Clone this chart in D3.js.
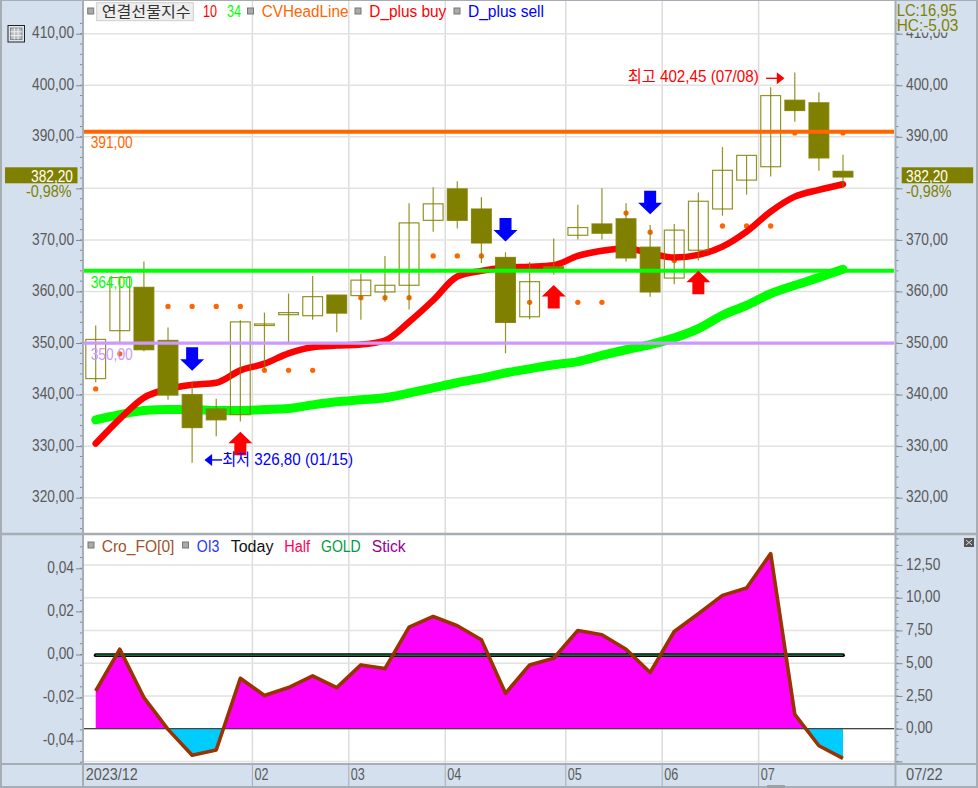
<!DOCTYPE html>
<html><head><meta charset="utf-8">
<script src="https://cdn.jsdelivr.net/npm/d3@7"></script>
<style>
html,body{margin:0;padding:0;background:#fff;overflow:hidden}
svg{display:block}
text{font-family:"Liberation Sans","Noto Sans CJK KR",sans-serif;font-size:16px}
.axis path{display:none}
.axis line{stroke:#808890}
.axis text{fill:#5a5a5a;font-size:16px}
</style></head><body>
<svg id="c" width="978" height="788"></svg>
<script>
const dates=["12/18","12/25","01/01","01/08","01/15","01/22","01/29","02/05","02/13","02/19","02/26","03/04","03/11","03/18","03/25","04/01","04/08","04/15","04/22","04/29","05/06","05/13","05/20","05/27","06/03","06/10","06/17","06/24","07/01","07/08","07/15","07/22"];
const open =[343.1,352.4,360.8,350.5,340.0,337.2,336.1,353.4,355.5,355.3,359.3,359.2,359.9,361.2,373.8,379.9,376.0,366.6,355.1,364.8,370.9,373.1,374.1,368.6,362.6,368.0,376.0,381.6,384.2,397.1,396.6,383.3];
const high =[353.4,362.9,365.8,353.0,342.4,339.2,354.4,355.9,359.6,363.0,359.3,363.5,366.9,377.1,380.2,381.4,378.3,367.6,365.7,370.3,376.8,380.0,377.1,372.9,373.1,379.2,388.0,386.4,399.6,402.45,398.6,386.5];
const low  =[342.4,350.0,348.4,339.0,326.8,331.9,334.8,344.7,350.2,354.5,352.1,354.5,358.0,356.5,371.6,372.2,365.5,348.0,354.6,363.3,370.1,370.1,365.8,359.0,361.4,366.0,374.7,378.8,382.3,392.9,383.4,380.0];
const close=[350.7,362.7,348.7,339.9,333.6,335.1,354.1,353.7,355.9,359.0,355.8,362.2,361.2,373.3,377.0,373.8,369.4,354.0,361.9,364.4,372.4,371.3,366.5,359.9,371.9,377.5,383.5,386.4,398.0,395.1,385.9,382.2];
const ma10=[330.5,335.3,339.4,341.1,341.9,342.3,344.7,346.0,348.0,349.2,349.5,349.7,350.5,354.1,358.3,362.9,364.0,364.6,364.8,365.1,366.9,367.9,368.4,367.4,366.6,367.1,368.7,371.6,375.5,378.4,379.7,380.8];
const ma34=[335.1,336.1,336.9,337.1,337.1,336.9,336.9,337.1,337.3,338.0,338.6,339.0,339.4,340.3,341.3,342.3,343.2,344.2,345.0,345.8,346.4,347.6,348.7,349.7,351.0,352.8,355.4,357.3,359.6,361.2,362.7,364.3];
const dotIdx=[0,1,3,4,5,6,7,8,9,11,12,13,14,15,16,18,20,21,22,23,24,25,26,27,28,29,31];
const dotVal=[341.1,347.9,357.1,357.1,357.1,357.1,344.7,344.7,344.7,358.8,358.8,358.8,366.9,366.9,366.9,357.9,357.9,357.9,375.2,371.5,366.0,367.1,372.7,372.7,372.7,390.75,390.75];
const headLines=[391,364,350];
const headColors=["#ff6600","#00ff00","#cc99ff"];
const buyIdx=[6,19,25], buyTip=[332.8,361.25,364.0];
const sellIdx=[4,17,23], sellTip=[344.6,369.7,375.0];
const priceTicks=[410,400,390,380,370,360,350,340,330,320];
const oscVals=[2.88,6.07,2.37,-0.05,-2.02,-1.63,3.85,2.53,3.14,4.03,3.14,4.87,4.59,7.76,8.57,7.86,6.79,2.70,4.87,5.38,7.5,7.17,6.07,4.29,7.42,8.78,10.18,10.74,13.37,1.10,-1.30,-2.27];
const oscRightTicks=[12.5,10,7.5,5,2.5,0,-2.5];
const oscLeftTicks=[0.04,0.02,0,-0.02,-0.04];
const monthStarts=["02/05","03/04","04/01","05/06","06/03","07/01"];
const monthLabels=["02","03","04","05","06","07"];

const svg=d3.select("#c");
const W=978,H=788,PL=83,PR=895.5;
const x=d3.scalePoint().domain(dates).range([95.7,843]);
const step=x.step();
const y=d3.scaleLinear().domain([410,320]).range([33.7,497.7]);
const yR=d3.scaleLinear().domain([12.5,0]).range([565,728.7]);
const yL=d3.scaleLinear().domain([0.04,-0.04]).range([568.3,740.7]);
const fmt=d=>d3.format(".2f")(d).replace(".",",").replace("\u2212","-");
const panel="#d5e0ee",olive="#808000";
const T=(t,px,py,c,w,anchor)=>{
 const s=svg.append("text").attr("x",px).attr("y",py).attr("fill",c).text(t);
 if(anchor)s.attr("text-anchor",anchor);
 if(w)s.attr("textLength",w).attr("lengthAdjust","spacingAndGlyphs");
 return s;
};

svg.append("rect").attr("width",W).attr("height",H).attr("fill","#fff");
svg.append("rect").attr("x",0).attr("y",0).attr("width",PL).attr("height",H).attr("fill",panel);
svg.append("rect").attr("x",PR).attr("y",0).attr("width",W-PR).attr("height",H).attr("fill",panel);
svg.append("rect").attr("x",0).attr("y",764).attr("width",W).attr("height",24).attr("fill",panel);

// grid
const grid=svg.append("g");
const gx=monthStarts.map(m=>x(m)-step/2);
gx.forEach(v=>grid.append("line").attr("x1",v).attr("x2",v).attr("y1",1).attr("y2",764).attr("stroke","#dcdcdc").attr("stroke-width",1.5));
priceTicks.forEach(v=>grid.append("line").attr("x1",PL).attr("x2",PR).attr("y1",y(v)).attr("y2",y(v)).attr("stroke","#e2e2e2").attr("stroke-width",1.5));
oscRightTicks.forEach(v=>grid.append("line").attr("x1",PL).attr("x2",PR).attr("y1",yR(v)).attr("y2",yR(v)).attr("stroke","#e2e2e2").attr("stroke-width",1.5));

// dots
svg.append("g").selectAll("path").data(dotIdx).join("path")
 .attr("d",d3.symbol(d3.symbolCircle,22))
 .attr("transform",(d,i)=>`translate(${x(dates[d])},${y(dotVal[i])})`).attr("fill","#ff6600");

// MAs
const ln=d3.line().x((d,i)=>x(dates[i])).y(d=>y(d)).curve(d3.curveMonotoneX);
svg.append("path").attr("d",ln(ma34)).attr("fill","none").attr("stroke","#00ff00").attr("stroke-width",9).attr("stroke-linecap","round").attr("stroke-linejoin","round");
svg.append("path").attr("d",ln(ma10)).attr("fill","none").attr("stroke","#ff0000").attr("stroke-width",6.5).attr("stroke-linecap","round").attr("stroke-linejoin","round");

// candles
const bw=19.8;
const cg=svg.append("g").selectAll("g").data(dates).join("g");
cg.append("line").attr("x1",d=>x(d)).attr("x2",d=>x(d)).attr("stroke",olive).attr("stroke-opacity",.85).attr("stroke-width",1.2)
 .attr("y1",(d,i)=>y(high[i])).attr("y2",(d,i)=>y(low[i]));
cg.append("rect").attr("x",d=>x(d)-bw/2).attr("width",bw)
 .attr("y",(d,i)=>y(Math.max(open[i],close[i])))
 .attr("height",(d,i)=>Math.max(1,y(Math.min(open[i],close[i]))-y(Math.max(open[i],close[i]))))
 .attr("fill",(d,i)=>close[i]>=open[i]?"#fff":olive).attr("fill-opacity",(d,i)=>close[i]>=open[i]?0:1)
 .attr("stroke",olive).attr("stroke-opacity",.85).attr("stroke-width",1.2);

// head lines
headLines.forEach((v,i)=>{
 svg.append("line").attr("x1",PL).attr("x2",PR-1.5).attr("y1",y(v)).attr("y2",y(v)).attr("stroke",headColors[i]).attr("stroke-width",i==2?3.3:4);
 T(fmt(v),90.7,y(v)+16.7,headColors[i],42);
});

// arrows
const arrow=(px,tip,s,color)=>{
 svg.append("path").attr("fill",color).attr("d",
  `M${px},${tip}L${px+12},${tip+s*11.5}L${px+6},${tip+s*11.5}L${px+6},${tip+s*23.5}L${px-6},${tip+s*23.5}L${px-6},${tip+s*11.5}L${px-12},${tip+s*11.5}Z`);
};
buyIdx.forEach((d,i)=>arrow(x(dates[d]),y(buyTip[i]),1,"#ff0000"));
sellIdx.forEach((d,i)=>arrow(x(dates[d]),y(sellTip[i]),-1,"#0000ff"));

// annotations
const hx=x("07/08"), lx=x("01/15"), hy=y(402.45), ly=y(326.8);
T("최고 402,45 (07/08)",hx-167,hy+9.5,"#ff0000",131);
svg.append("path").attr("d",`M${hx-28.7},${hy+5.7}H${hx-16}`).attr("stroke","#ff0000").attr("stroke-width",1.4);
svg.append("path").attr("d",`M${hx-18},${hy-.3}L${hx-10.3},${hy+5.7}L${hx-18},${hy+11.7}Z`).attr("fill","#ff0000");
T("최저 326,80 (01/15)",lx+30,ly+2.5,"#0000ff",131);
svg.append("path").attr("d",`M${lx+30},${ly-2.7}H${lx+18}`).attr("stroke","#0000ff").attr("stroke-width",1.4);
svg.append("path").attr("d",`M${lx+20},${ly-8.7}L${lx+12.3},${ly-2.7}L${lx+20},${ly+3.3}Z`).attr("fill","#0000ff");

// lower panel
const defs=svg.append("defs");
defs.append("clipPath").attr("id","pos").append("rect").attr("x",PL).attr("y",535).attr("width",PR-PL).attr("height",yR(0)-535);
defs.append("clipPath").attr("id","neg").append("rect").attr("x",PL).attr("y",yR(0)).attr("width",PR-PL).attr("height",764-yR(0));
const ar=d3.area().x((d,i)=>x(dates[i])).y0(yR(0)).y1(d=>yR(d));
svg.append("path").attr("d",ar(oscVals)).attr("fill","#ff00ff").attr("clip-path","url(#pos)");
svg.append("path").attr("d",ar(oscVals)).attr("fill","#00ccff").attr("clip-path","url(#neg)");
svg.append("line").attr("x1",PL).attr("x2",PR-1.5).attr("y1",yR(0)).attr("y2",yR(0)).attr("stroke","#444").attr("stroke-width",1.3);
svg.append("line").attr("x1",x(dates[0])).attr("x2",x(dates[31])).attr("y1",yL(0)+.7).attr("y2",yL(0)+.7).attr("stroke","#000").attr("stroke-width",3.8).attr("stroke-linecap","round");
svg.append("line").attr("x1",x(dates[0])).attr("x2",x(dates[31])).attr("y1",yL(0)+.7).attr("y2",yL(0)+.7).attr("stroke","#1f8a4c").attr("stroke-width",1.3);
svg.append("path").attr("d",d3.line().x((d,i)=>x(dates[i])).y(d=>yR(d))(oscVals)).attr("fill","none").attr("stroke","#993300").attr("stroke-width",3.6).attr("stroke-linejoin","round");

// axes
const minor=(a,b,s)=>d3.range(a,b+s/2,s);
const drawAxis=(scale,ticks,hidden,minors,side,xp,yMin,yMax)=>{
 const ax=(side=="l"?d3.axisLeft(scale):d3.axisRight(scale)).tickValues(ticks).tickSize(7).tickPadding(side=="l"?2:3.5).tickFormat(d=>hidden.includes(d)?"":fmt(d));
 const g=svg.append("g").attr("class","axis").attr("transform",`translate(${xp},0)`).call(ax);
 g.selectAll("text").attr("dy","0.26em");
 const m=side=="l"?-3:3;
 svg.append("g").selectAll("line").data(minors.filter(v=>scale(v)>yMin&&scale(v)<yMax)).join("line")
  .attr("x1",xp).attr("x2",xp+m).attr("y1",d=>scale(d)).attr("y2",d=>scale(d)).attr("stroke","#808890");
};
drawAxis(y,priceTicks,[380],minor(314,412,2),"l",PL,2,532);
drawAxis(y,priceTicks,[380],minor(314,412,2),"r",PR,2,532);
drawAxis(yL,oscLeftTicks,[],minor(-0.05,0.055,0.005),"l",PL,537,763);
drawAxis(yR,oscRightTicks,[-2.5],minor(-3,14.5,0.5),"r",PR,537,763);

// frame
const frame=[[0,0,W,0,2],[83,0,83,764,2],[PR,0,PR,788,2],[0,534,W,534,2.5],[0,764,W,764,2],[1,0,1,788,2],[W-1,0,W-1,788,2],[0,787,W,787,2],[83,764,83,788,2]];
frame.forEach(f=>svg.append("line").attr("x1",f[0]).attr("y1",f[1]).attr("x2",f[2]).attr("y2",f[3]).attr("stroke","#a6adb5").attr("stroke-width",f[4]));
gx.forEach(v=>svg.append("line").attr("x1",v).attr("x2",v).attr("y1",764).attr("y2",787).attr("stroke","#a6adb5").attr("stroke-width",1));
svg.append("rect").attr("x",767).attr("y",785).attr("width",18).attr("height",3).attr("fill","#9aa1a8");

// x labels
T("2023/12",85.7,780,"#5a5a5a",52);
monthStarts.forEach((m,i)=>T(monthLabels[i],x(m)-step/2+2,780,"#5a5a5a",14));
T(dates[31],906,780,"#5a5a5a",36.7);

// price tags
svg.append("rect").attr("x",5).attr("y",167.3).attr("width",72.5).attr("height",16).attr("fill",olive);
T(fmt(close[31]),31,181.5,"#fff",42);
T("-0,98%",26,196.5,olive,45.7);
svg.append("rect").attr("x",901.7).attr("y",167.3).attr("width",71.5).attr("height",16).attr("fill",olive);
T(fmt(close[31]),906,181.5,"#fff",42);
T("-0,98%",906,196.5,olive,45.7);

// LC/HC
svg.append("rect").attr("x",897).attr("y",1).attr("width",79).attr("height",31.5).attr("fill",panel);
T("LC:16,95",896.7,16,olive,60);
T("HC:-5,03",896.7,31,olive,61.7);

// legends
const sq=(px,py)=>svg.append("rect").attr("x",px-3).attr("y",py-3).attr("width",6).attr("height",6).attr("fill","#aaa").attr("stroke","#777");
sq(90.7,11);
svg.append("rect").attr("x",96.7).attr("y",2.7).attr("width",96.6).attr("height",18).attr("fill","#eeeeee").attr("stroke","#cfcfcf");
T("연결선물지수",101.7,17,"#333",89).style("font-size","15px");
T("10",203,17,"#ff0000",14);
T("34",227,17,"#00ff00",14);
sq(250.5,11);T("CVHeadLine",261.7,17,"#ff6600",86.7);
sq(358,11);T("D_plus buy",369.3,17,"#ff0000",77);
sq(457,11);T("D_plus sell",468,17,"#0000ff",76);
sq(91,545);T("Cro_FO[0]",101.7,551.5,"#a0522d",72.7);
sq(185.5,545);T("OI3",196.7,551.5,"#2233ff",22.7);
T("Today",230.7,551.5,"#111",42.7);
T("Half",284.3,551.5,"#ff0055",25.7);
T("GOLD",321,551.5,"#009944",39.7);
T("Stick",371.7,551.5,"#990099",34);

// table icon
const ic=svg.append("g");
ic.append("rect").attr("x",8).attr("y",25.5).attr("width",16.5).attr("height",16.5).attr("fill","#dfe6ee").attr("stroke","#222").attr("stroke-width",1);
ic.append("rect").attr("x",10.5).attr("y",28).attr("width",11.5).attr("height",11.5).attr("fill","#b9bec4").attr("stroke","#666").attr("stroke-width",.7);
[14.3,18.1].forEach(v=>ic.append("line").attr("x1",v).attr("x2",v).attr("y1",28).attr("y2",39.5).attr("stroke","#eee"));
[31.8,35.6].forEach(v=>ic.append("line").attr("x1",10.5).attr("x2",22).attr("y1",v).attr("y2",v).attr("stroke","#eee"));

// close button
svg.append("rect").attr("x",964).attr("y",538).attr("width",10).attr("height",9).attr("fill","#555");
svg.append("path").attr("d","M966,540L972,545M972,540L966,545").attr("stroke","#ddd").attr("stroke-width",1);

// condensed axis labels
svg.selectAll(".axis text").each(function(){
 const n=this.getComputedTextLength();
 if(n>0)d3.select(this).attr("textLength",n*0.857).attr("lengthAdjust","spacingAndGlyphs");
});
</script>
</body></html>
